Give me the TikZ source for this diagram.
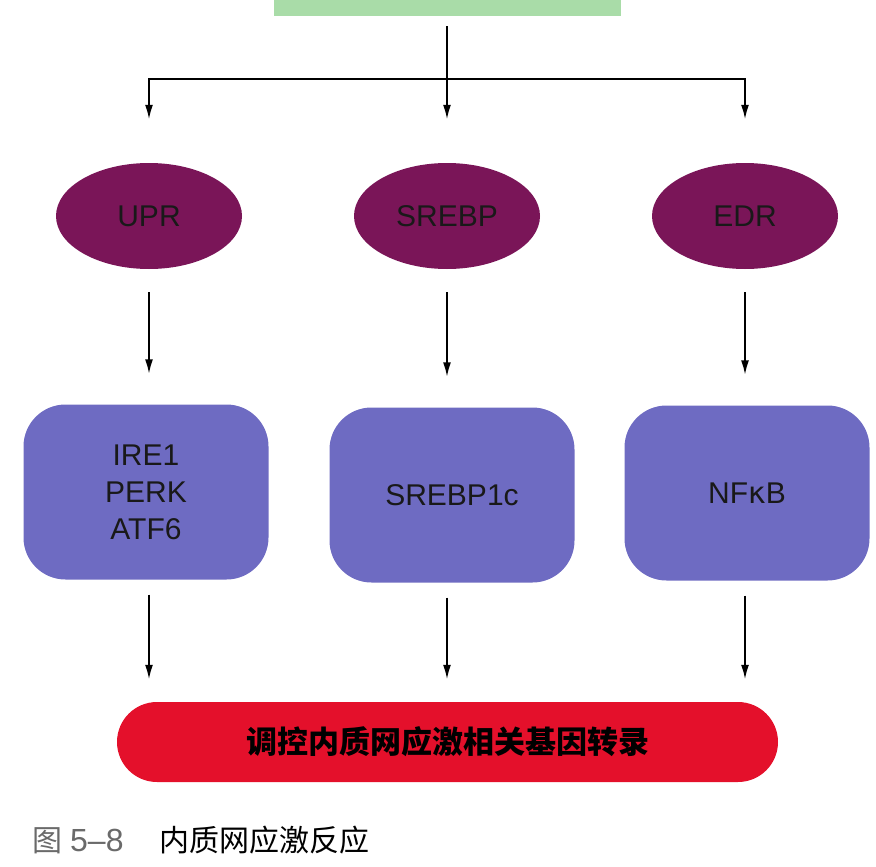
\documentclass[tikz,border=0pt]{standalone}
\usepackage{fontspec}
\setmainfont{Liberation Sans}
\newfontfamily\cjk{Noto Sans CJK SC}
\usetikzlibrary{shapes.geometric,arrows.meta}
\definecolor{topgreen}{HTML}{A9DCA8}
\definecolor{ellpurple}{HTML}{7A1558}
\definecolor{boxblue}{HTML}{6E6BC2}
\definecolor{barred}{HTML}{E4102B}
\definecolor{capgrey}{HTML}{6A6A6A}
\tikzset{
  ellnode/.style={ellipse,fill=ellpurple,minimum width=186pt,minimum height=106pt,inner sep=0pt,font=\fontsize{30}{36}\selectfont,text=black!90},
  bluebox/.style={rectangle,rounded corners=42pt,fill=boxblue,minimum width=245pt,minimum height=175pt,inner sep=0pt,align=center,font=\fontsize{30}{37}\selectfont,text=black!90},
  arr/.style={line width=2.2pt,-{Latex[length=15pt,width=8pt]}},
  plain/.style={line width=2.2pt}
}
\begin{document}
\begin{tikzpicture}[x=1pt,y=-1pt]
\useasboundingbox (0,0) rectangle (876,867);
% top box (cut off)
\node[rectangle,fill=topgreen,minimum width=347pt,minimum height=16pt,inner sep=0pt,anchor=north] (top) at (447,0) {};
\coordinate (j) at (447,79);
% ellipses
\node[ellnode] (upr) at (149,216) {UPR};
\node[ellnode] (srebp) at (447,216) {SREBP};
\node[ellnode] (edr) at (745,216) {EDR};
% blue boxes
\node[bluebox] (b1) at (146,492) {IRE1\\PERK\\ATF6};
\node[bluebox] (b2) at (452,495) {SREBP1c};
\node[bluebox] (b3) at (747,493) {NF\textsf{\fontspec{DejaVu Sans}κ}B};
% red bar
\node[rectangle,rounded corners=40pt,fill=barred,minimum width=661pt,minimum height=80pt,inner sep=0pt] (bar) at (447.5,742) {\cjk\bfseries\fontsize{31}{36}\selectfont 调控内质网应激相关基因转录};
% caption
\node[anchor=west,inner sep=0pt] (cap) at (32,840) {\cjk\fontsize{30}{34}\selectfont\textcolor{capgrey}{图}\hspace{8pt}\textcolor{capgrey}{\fontspec{Liberation Sans}\fontsize{32}{34}\selectfont 5–8}\hspace{36pt}内质网应激反应};
% connectors
\draw[plain,shorten <=10pt] (top.south) -- (j);
\draw[plain] (upr.north |- j) -- (edr.north |- j);
\draw[arr,shorten >=43pt] (j) -- (srebp.north);
\draw[arr,shorten >=43pt] (j) -| (upr.north);
\draw[arr,shorten >=43pt] (j) -| (edr.north);
\draw[arr,shorten <=23pt,shorten >=30pt] (upr.south) -- (upr.south |- b1.north);
\draw[arr,shorten <=23pt,shorten >=30pt] (srebp.south) -- (srebp.south |- b2.north);
\draw[arr,shorten <=23pt,shorten >=30pt] (edr.south) -- (edr.south |- b3.north);
\draw[arr,shorten <=15pt,shorten >=22pt] (upr.south |- b1.south) -- (upr.south |- bar.north);
\draw[arr,shorten <=15pt,shorten >=22pt] (srebp.south |- b2.south) -- (srebp.south |- bar.north);
\draw[arr,shorten <=15pt,shorten >=22pt] (edr.south |- b3.south) -- (edr.south |- bar.north);
\end{tikzpicture}
\end{document}
